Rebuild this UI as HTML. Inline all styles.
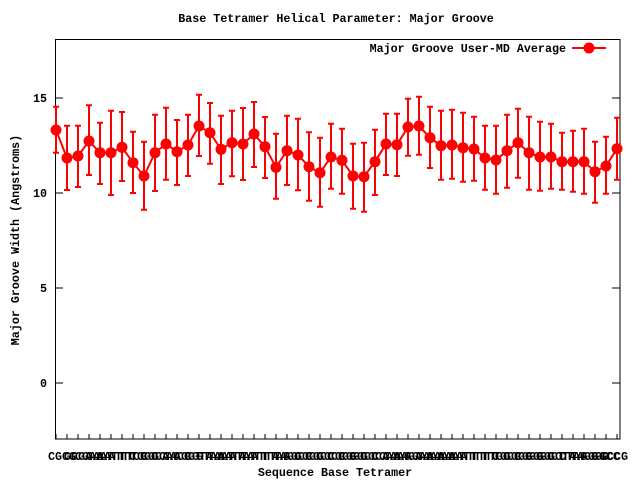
<!DOCTYPE html>
<html><head><meta charset="utf-8"><style>
html,body{margin:0;padding:0;background:#fff;}
svg{display:block;}
text{font-family:"Liberation Mono",monospace;font-size:11.7px;font-weight:bold;fill:#000;}
</style></head><body>
<svg width="640" height="480" viewBox="0 0 640 480" xmlns="http://www.w3.org/2000/svg">
<rect width="640" height="480" fill="#fff"/>
<text x="336" y="22" text-anchor="middle">Base Tetramer Helical Parameter: Major Groove</text>
<text x="335" y="476" text-anchor="middle">Sequence Base Tetramer</text>
<text transform="translate(19,240) rotate(-90)" text-anchor="middle">Major Groove Width (Angstroms)</text>
<g text-anchor="end">
<text x="47" y="102">15</text><text x="47" y="197">10</text><text x="47" y="292">5</text><text x="47" y="387">0</text>
</g>
<g stroke="#000" stroke-width="1">
<path d="M55 98h8M55 193h8M55 288h8M55 383h8M620 98h-8M620 193h-8M620 288h-8M620 383h-8"/>
<path d="M56 439v-5M67 439v-5M78 439v-5M89 439v-5M100 439v-5M111 439v-5M122 439v-5M133 439v-5M144 439v-5M155 439v-5M166 439v-5M177 439v-5M188 439v-5M199 439v-5M210 439v-5M221 439v-5M232 439v-5M243 439v-5M254 439v-5M265 439v-5M276 439v-5M287 439v-5M298 439v-5M309 439v-5M320 439v-5M331 439v-5M342 439v-5M353 439v-5M364 439v-5M375 439v-5M386 439v-5M397 439v-5M408 439v-5M419 439v-5M430 439v-5M441 439v-5M452 439v-5M463 439v-5M474 439v-5M485 439v-5M496 439v-5M507 439v-5M518 439v-5M529 439v-5M540 439v-5M551 439v-5M562 439v-5M573 439v-5M584 439v-5M595 439v-5M606 439v-5M617 439v-5"/>
<rect x="55.5" y="39.5" width="564.5" height="399.5" fill="none"/>
</g>
<g text-anchor="middle">
<text x="62" y="460">CGCG</text><text x="78" y="460">GCGA</text><text x="89" y="460">CGAA</text><text x="100" y="460">GAAT</text><text x="111" y="460">AATT</text><text x="122" y="460">ATTC</text><text x="133" y="460">TTCG</text><text x="144" y="460">TCGC</text><text x="155" y="460">CGCA</text><text x="166" y="460">GCAC</text><text x="177" y="460">CACG</text><text x="188" y="460">ACGT</text><text x="199" y="460">CGTA</text><text x="210" y="460">GTAA</text><text x="221" y="460">TAAT</text><text x="232" y="460">AATA</text><text x="243" y="460">ATAT</text><text x="254" y="460">TATT</text><text x="265" y="460">ATTA</text><text x="276" y="460">TTAG</text><text x="287" y="460">TAGC</text><text x="298" y="460">AGCG</text><text x="309" y="460">GCGC</text><text x="320" y="460">CGCC</text><text x="331" y="460">GCCG</text><text x="342" y="460">CCGG</text><text x="353" y="460">CGGC</text><text x="364" y="460">GGCC</text><text x="375" y="460">GCCA</text><text x="386" y="460">CCAA</text><text x="397" y="460">CAAG</text><text x="408" y="460">AAGA</text><text x="419" y="460">AGAA</text><text x="430" y="460">GAAA</text><text x="441" y="460">AAAA</text><text x="452" y="460">AAAT</text><text x="463" y="460">AATT</text><text x="474" y="460">ATTT</text><text x="485" y="460">TTTG</text><text x="496" y="460">TTGC</text><text x="507" y="460">TGCG</text><text x="518" y="460">GCGG</text><text x="529" y="460">CGGG</text><text x="540" y="460">GGGC</text><text x="551" y="460">GGCT</text><text x="562" y="460">GCTA</text><text x="573" y="460">CTAG</text><text x="584" y="460">TAGG</text><text x="595" y="460">AGGC</text><text x="606" y="460">GGCC</text><text x="614" y="460">GCCG</text>
</g>
<g stroke="#f00" stroke-width="2" fill="none">
<path d="M56 106.7V152.7M67 125.7V190M78 125.7V187M89 105.3V175M100 122.7V184M111 110.7V195M122 112V181M133 131.7V193M144 141.7V209.7M155 114.7V191M166 107.7V179.7M177 120V185M188 114.7V176M199 94.7V156M210 103V163.7M221 115.7V184M232 110.7V176.3M243 108V180M254 102V167M265 117V178M276 133.7V198.7M287 115.7V185M298 118.7V190.3M309 132.3V200.7M320 137.7V206.7M331 123.7V188.7M342 128.7V193.7M353 143.7V208.7M364 142.7V211.7M375 129.7V195M386 113.7V175M397 113.7V176M408 98.7V155.7M419 96.7V154.7M430 106.7V168M441 110.7V179.7M452 109.7V178.7M463 112.7V181.7M474 116.7V180.7M485 125.7V189.7M496 125.7V193.7M507 114.7V187.7M518 108.7V177.7M529 116.7V189.7M540 121.7V190.7M551 123.7V188.7M562 132.7V189.7M573 130.7V191.7M584 128.7V193.7M595 141.7V202.7M606 136.7V193.7M617 117.7V179.7"/>
<path d="M53 106.7h6M53 152.7h6M64 125.7h6M64 190h6M75 125.7h6M75 187h6M86 105.3h6M86 175h6M97 122.7h6M97 184h6M108 110.7h6M108 195h6M119 112h6M119 181h6M130 131.7h6M130 193h6M141 141.7h6M141 209.7h6M152 114.7h6M152 191h6M163 107.7h6M163 179.7h6M174 120h6M174 185h6M185 114.7h6M185 176h6M196 94.7h6M196 156h6M207 103h6M207 163.7h6M218 115.7h6M218 184h6M229 110.7h6M229 176.3h6M240 108h6M240 180h6M251 102h6M251 167h6M262 117h6M262 178h6M273 133.7h6M273 198.7h6M284 115.7h6M284 185h6M295 118.7h6M295 190.3h6M306 132.3h6M306 200.7h6M317 137.7h6M317 206.7h6M328 123.7h6M328 188.7h6M339 128.7h6M339 193.7h6M350 143.7h6M350 208.7h6M361 142.7h6M361 211.7h6M372 129.7h6M372 195h6M383 113.7h6M383 175h6M394 113.7h6M394 176h6M405 98.7h6M405 155.7h6M416 96.7h6M416 154.7h6M427 106.7h6M427 168h6M438 110.7h6M438 179.7h6M449 109.7h6M449 178.7h6M460 112.7h6M460 181.7h6M471 116.7h6M471 180.7h6M482 125.7h6M482 189.7h6M493 125.7h6M493 193.7h6M504 114.7h6M504 187.7h6M515 108.7h6M515 177.7h6M526 116.7h6M526 189.7h6M537 121.7h6M537 190.7h6M548 123.7h6M548 188.7h6M559 132.7h6M559 189.7h6M570 130.7h6M570 191.7h6M581 128.7h6M581 193.7h6M592 141.7h6M592 202.7h6M603 136.7h6M603 193.7h6M614 117.7h6M614 179.7h6"/>
<polyline points="56,130 67,158 78,156 89,141 100,152.7 111,152.7 122,147.3 133,162.7 144,176 155,152.7 166,144 177,151.7 188,145 199,126 210,132.7 221,149.3 232,142.7 243,144 254,134 265,146.7 276,167.3 287,150.7 298,155 309,166.7 320,172.7 331,157 342,160.3 353,176 364,176.7 375,161.7 386,144 397,144.7 408,127 419,126 430,137.7 441,145.7 452,145 463,147.7 474,149 485,158 496,160 507,150.7 518,142.7 529,152.7 540,157 551,157 562,161.7 573,161.7 584,161.7 595,171.7 606,166 617,148.7"/>
<path d="M572 48h34"/>
</g>
<g fill="#f00">
<circle cx="56" cy="130" r="5.5"/><circle cx="67" cy="158" r="5.5"/><circle cx="78" cy="156" r="5.5"/><circle cx="89" cy="141" r="5.5"/><circle cx="100" cy="152.7" r="5.5"/><circle cx="111" cy="152.7" r="5.5"/><circle cx="122" cy="147.3" r="5.5"/><circle cx="133" cy="162.7" r="5.5"/><circle cx="144" cy="176" r="5.5"/><circle cx="155" cy="152.7" r="5.5"/><circle cx="166" cy="144" r="5.5"/><circle cx="177" cy="151.7" r="5.5"/><circle cx="188" cy="145" r="5.5"/><circle cx="199" cy="126" r="5.5"/><circle cx="210" cy="132.7" r="5.5"/><circle cx="221" cy="149.3" r="5.5"/><circle cx="232" cy="142.7" r="5.5"/><circle cx="243" cy="144" r="5.5"/><circle cx="254" cy="134" r="5.5"/><circle cx="265" cy="146.7" r="5.5"/><circle cx="276" cy="167.3" r="5.5"/><circle cx="287" cy="150.7" r="5.5"/><circle cx="298" cy="155" r="5.5"/><circle cx="309" cy="166.7" r="5.5"/><circle cx="320" cy="172.7" r="5.5"/><circle cx="331" cy="157" r="5.5"/><circle cx="342" cy="160.3" r="5.5"/><circle cx="353" cy="176" r="5.5"/><circle cx="364" cy="176.7" r="5.5"/><circle cx="375" cy="161.7" r="5.5"/><circle cx="386" cy="144" r="5.5"/><circle cx="397" cy="144.7" r="5.5"/><circle cx="408" cy="127" r="5.5"/><circle cx="419" cy="126" r="5.5"/><circle cx="430" cy="137.7" r="5.5"/><circle cx="441" cy="145.7" r="5.5"/><circle cx="452" cy="145" r="5.5"/><circle cx="463" cy="147.7" r="5.5"/><circle cx="474" cy="149" r="5.5"/><circle cx="485" cy="158" r="5.5"/><circle cx="496" cy="160" r="5.5"/><circle cx="507" cy="150.7" r="5.5"/><circle cx="518" cy="142.7" r="5.5"/><circle cx="529" cy="152.7" r="5.5"/><circle cx="540" cy="157" r="5.5"/><circle cx="551" cy="157" r="5.5"/><circle cx="562" cy="161.7" r="5.5"/><circle cx="573" cy="161.7" r="5.5"/><circle cx="584" cy="161.7" r="5.5"/><circle cx="595" cy="171.7" r="5.5"/><circle cx="606" cy="166" r="5.5"/><circle cx="617" cy="148.7" r="5.5"/>
<circle cx="589" cy="48" r="5.5"/>
</g>
<text x="566" y="52" text-anchor="end">Major Groove User-MD Average</text>
</svg>
</body></html>
